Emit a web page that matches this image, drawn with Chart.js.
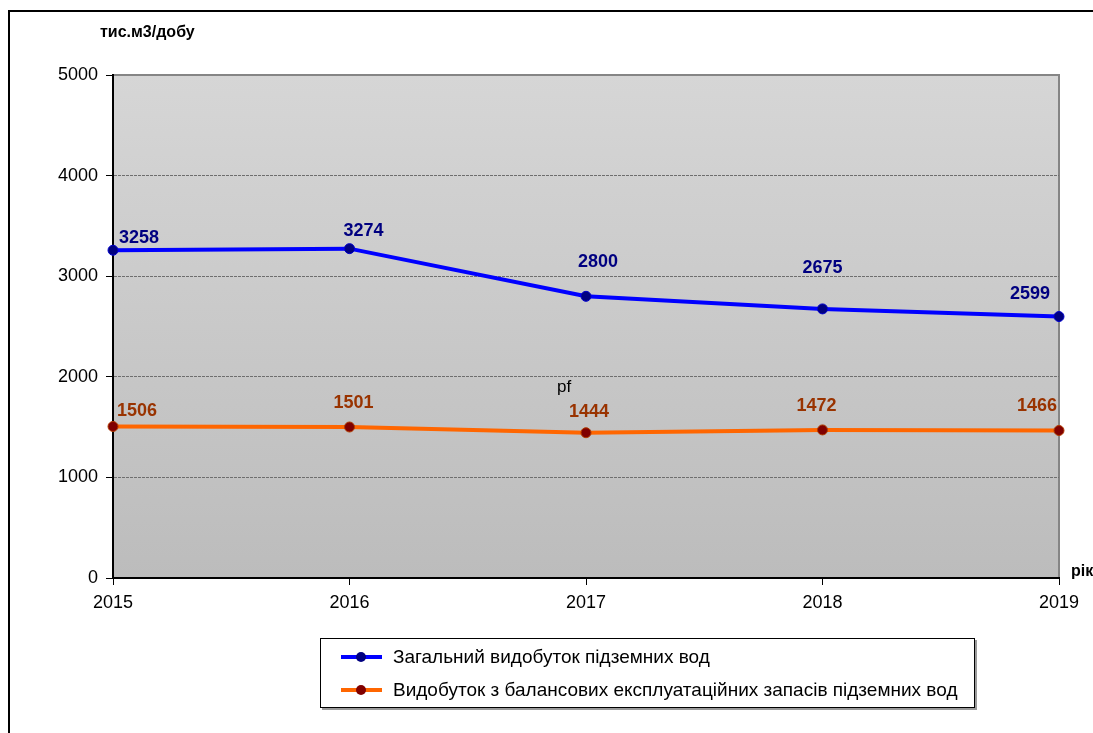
<!DOCTYPE html>
<html>
<head>
<meta charset="utf-8">
<script src="https://cdn.jsdelivr.net/npm/chart.js@4"></script>
<style>
  html, body { margin: 0; padding: 0; background: #fff; }
  #wrap { width: 1093px; height: 733px; position: relative; }
</style>
</head>
<body>
<div id="wrap"><canvas id="myChart" width="1093" height="733"></canvas></div>
<script>
const years = ['2015', '2016', '2017', '2018', '2019'];
const totalUse = [3258, 3274, 2800, 2675, 2599];
const balanceUse = [1506, 1501, 1444, 1472, 1466];
const yTicks = [0, 1000, 2000, 3000, 4000, 5000];

const totalName = 'Загальний видобуток підземних вод';
const balanceName = 'Видобуток з балансових експлуатаційних запасів підземних вод';

// where each value label sits relative to its point
const labelShift = [
  [[26, -12], [14, -18], [12, -34], [0, -41], [-29, -23]],
  [[24, -15], [4, -24], [3, -21], [-6, -24], [-22, -24]]
];
const labelColors = ['#000080', '#993300'];

const ctx = document.getElementById('myChart');
const FONT = 'Arial, "Liberation Sans", sans-serif';

const plotBack = {
  id: 'plotBack',
  beforeDraw(chart) {
    const c = chart.ctx, a = chart.chartArea;
    c.save();
    // outer frame
    c.strokeStyle = '#000';
    c.lineWidth = 2;
    c.strokeRect(9, 11, 1200, 900);
    // gray plot area
    const g = c.createLinearGradient(0, a.top, 0, a.bottom);
    g.addColorStop(0, '#d6d6d6');
    g.addColorStop(1, '#bcbcbc');
    c.fillStyle = g;
    c.fillRect(a.left, a.top, a.right - a.left, a.bottom - a.top);
    c.strokeStyle = '#858585';
    c.lineWidth = 2;
    c.beginPath();
    c.moveTo(a.left, a.top);
    c.lineTo(a.right, a.top);
    c.lineTo(a.right, a.bottom);
    c.stroke();
    c.restore();
  },
  afterDatasetsDraw(chart) {
    const c = chart.ctx;
    c.save();
    c.font = 'bold 18px ' + FONT;
    c.textAlign = 'center';
    c.textBaseline = 'middle';
    chart.data.datasets.forEach((ds, d) => {
      const meta = chart.getDatasetMeta(d);
      c.fillStyle = labelColors[d];
      meta.data.forEach((pt, i) => {
        const s = labelShift[d][i];
        c.fillText(String(ds.data[i]), pt.x + s[0], pt.y + s[1]);
      });
    });
    c.restore();
  },
  afterDraw(chart) {
    const c = chart.ctx;
    c.save();
    c.fillStyle = '#000';
    c.textBaseline = 'middle';
    c.font = 'bold 16px ' + FONT;
    c.fillText('тис.м3/добу', 100, 33);
    c.font = 'bold 16px ' + FONT;
    c.fillText('рік', 1071, 572);
    c.font = '17px ' + FONT;
    c.fillText('pf', 557, 387);

    // legend box
    c.fillStyle = '#9a9a9a';
    c.fillRect(322, 640, 655, 70);
    c.fillStyle = '#fff';
    c.fillRect(320, 638, 655, 70);
    c.strokeStyle = '#000';
    c.lineWidth = 1;
    c.strokeRect(320.5, 638.5, 654, 69);
    const rows = [657, 690];
    chart.data.datasets.forEach((ds, d) => {
      const y = rows[d];
      c.strokeStyle = ds.borderColor;
      c.lineWidth = 4;
      c.beginPath();
      c.moveTo(341, y);
      c.lineTo(382, y);
      c.stroke();
      c.fillStyle = ds.pointBackgroundColor;
      c.beginPath();
      c.arc(361, y, 5, 0, Math.PI * 2);
      c.fill();
      c.fillStyle = '#000';
      c.font = '19px ' + FONT;
      c.fillText(ds.label, 393, y + 1);
    });
    c.restore();
  }
};

new Chart(ctx, {
  type: 'line',
  data: {
    labels: years,
    datasets: [
      {
        label: totalName,
        data: totalUse,
        borderColor: '#0000ff',
        borderWidth: 4,
        pointBackgroundColor: '#000080',
        pointBorderColor: '#0000cc',
        pointBorderWidth: 1,
        pointRadius: 5,
        tension: 0
      },
      {
        label: balanceName,
        data: balanceUse,
        borderColor: '#ff6600',
        borderWidth: 4,
        pointBackgroundColor: '#800000',
        pointBorderColor: '#b03a00',
        pointBorderWidth: 1,
        pointRadius: 5,
        tension: 0
      }
    ]
  },
  options: {
    responsive: false,
    animation: false,
    events: [],
    layout: { padding: { left: 0, top: 75, right: 34, bottom: 115 } },
    plugins: {
      legend: { display: false },
      tooltip: { enabled: false }
    },
    scales: {
      x: {
        offset: false,
        afterFit(scale) { scale.height = 40; },
        grid: {
          drawOnChartArea: false,
          drawTicks: true,
          tickLength: 7,
          tickColor: '#000',
          tickWidth: 1
        },
        border: { display: true, color: '#000', width: 2 },
        ticks: {
          color: '#000',
          font: { family: FONT, size: 18 },
          padding: 7,
          maxRotation: 0
        }
      },
      y: {
        min: 0,
        max: 5000,
        afterFit(scale) { scale.width = 113; },
        afterBuildTicks(scale) { scale.ticks = yTicks.map(v => ({ value: v })); },
        grid: {
          color: c => (c.tick && c.tick.value > 0 && c.tick.value < 5000) ? '#6e6e6e' : 'rgba(0,0,0,0)',
          lineWidth: 1,
          drawTicks: true,
          tickLength: 7,
          tickColor: '#000',
          tickWidth: 1
        },
        border: { display: true, color: '#000', width: 2, dash: [3, 1] },
        ticks: {
          color: '#000',
          font: { family: FONT, size: 18 },
          padding: 8,
          callback: v => String(v)
        }
      }
    }
  },
  plugins: [plotBack]
});
</script>
</body>
</html>
